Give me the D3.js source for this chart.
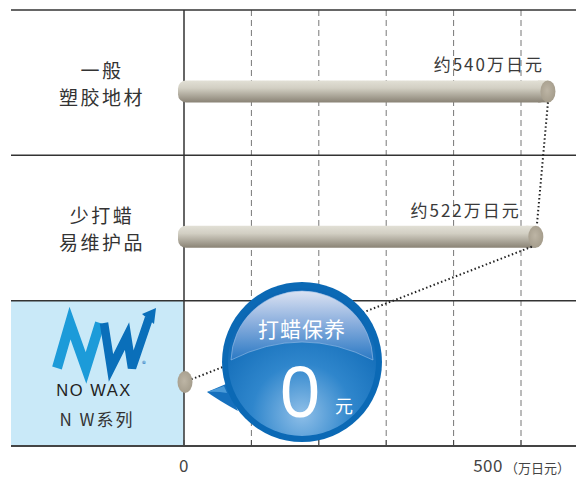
<!DOCTYPE html>
<html>
<head>
<meta charset="utf-8">
<script src="https://cdn.jsdelivr.net/npm/d3@7"></script>
<style>
  body { margin: 0; background: #fff; }
  svg { display: block; }
</style>
</head>
<body>
<div id="chart"></div>
<script>
// data
const categories = ["一般塑胶地材", "少打蜡易维护品", "NW系列"];
const categoryLines = [["一般", "塑胶地材"], ["少打蜡", "易维护品"], ["NO WAX", "N W系列"]];
const costValues = [540, 522, 0];
const costLabels = ["约540万日元", "约522万日元", ""];
const tickValues = [0, 100, 200, 300, 400, 500];
const tickLabels = ["0", "", "", "", "", "500"];
const unitLabel = "（万日元）";
const bubbleTitle = "打蜡保养";
const bubbleValue = "0";
const bubbleUnit = "元";

const W = 576, H = 477;
const leftX = 11, zeroX = 184, topY = 10, bottomY = 446;

const svg = d3.select("#chart").append("svg")
    .attr("width", W)
    .attr("height", H)
    .style("font-family", "'Noto Sans CJK SC', 'Noto Sans', sans-serif");

const x = d3.scaleLinear().domain([0, 500]).range([zeroX, 521]);
const y = d3.scaleBand().domain(categories).range([topY, bottomY]);

const defs = svg.append("defs");

let barGrad = defs.append("linearGradient").attr("id", "barGrad")
    .attr("x1", 0).attr("y1", 0).attr("x2", 0).attr("y2", 1);
barGrad.append("stop").attr("offset", "0%").attr("stop-color", "#e2e0d6");
barGrad.append("stop").attr("offset", "35%").attr("stop-color", "#d2cfc3");
barGrad.append("stop").attr("offset", "100%").attr("stop-color", "#8a8375");

let capGrad = defs.append("radialGradient").attr("id", "capGrad")
    .attr("cx", "45%").attr("cy", "45%").attr("r", "60%");
capGrad.append("stop").attr("offset", "0%").attr("stop-color", "#bdb5a5");
capGrad.append("stop").attr("offset", "100%").attr("stop-color", "#a39b8a");

let bubbleGrad = defs.append("radialGradient").attr("id", "bubbleGrad")
    .attr("cx", "50%").attr("cy", "85%").attr("r", "75%");
bubbleGrad.append("stop").attr("offset", "0%").attr("stop-color", "#8fbfe8");
bubbleGrad.append("stop").attr("offset", "45%").attr("stop-color", "#2f86cc");
bubbleGrad.append("stop").attr("offset", "100%").attr("stop-color", "#0b66b3");

let hlGrad = defs.append("linearGradient").attr("id", "hlGrad")
    .attr("x1", 0).attr("y1", 0).attr("x2", 0).attr("y2", 1);
hlGrad.append("stop").attr("offset", "0%").attr("stop-color", "#dbe2f2");
hlGrad.append("stop").attr("offset", "45%").attr("stop-color", "#8db0de");
hlGrad.append("stop").attr("offset", "100%").attr("stop-color", "#2a79c4");

// NW row background
svg.append("rect")
    .attr("x", leftX).attr("y", y(categories[2]))
    .attr("width", zeroX - leftX).attr("height", y.bandwidth())
    .attr("fill", "#c9e9f8");

// dashed grid
svg.append("g").selectAll("line")
    .data(tickValues.slice(1))
    .join("line")
    .attr("x1", d => x(d)).attr("x2", d => x(d))
    .attr("y1", topY).attr("y2", bottomY)
    .attr("stroke", "#777")
    .attr("stroke-width", 1)
    .attr("stroke-dasharray", "6,4");

// row separators
svg.append("g").selectAll("line")
    .data(categories)
    .join("line")
    .attr("x1", leftX).attr("x2", W)
    .attr("y1", d => y(d)).attr("y2", d => y(d))
    .attr("stroke", "#333")
    .attr("stroke-width", 1.5);

// zero line
svg.append("line")
    .attr("x1", x(0)).attr("x2", x(0))
    .attr("y1", topY).attr("y2", bottomY)
    .attr("stroke", "#333").attr("stroke-width", 1.5);

// category labels
categoryLines.slice(0, 2).forEach(function(lines, i) {
  let cy = y(categories[i]) + y.bandwidth() / 2;
  svg.append("text")
      .attr("x", 102)
      .attr("text-anchor", "middle")
      .attr("font-size", "19px")
      .attr("letter-spacing", "2.5px")
      .attr("fill", "#333")
      .selectAll("tspan")
      .data(lines)
      .join("tspan")
      .attr("x", 102)
      .attr("y", (d, j) => cy - 5 + j * 27)
      .text(d => d);
});

// NW logo
let logo = svg.append("g");
logo.append("polyline")
    .attr("points", "57,368 70,323 86,368 100,323")
    .attr("fill", "none").attr("stroke", "#1c9bd9")
    .attr("stroke-width", 10).attr("stroke-linejoin", "miter");
logo.append("polyline")
    .attr("points", "104,323 111,368 127,336 132,368 149,318")
    .attr("fill", "none").attr("stroke", "#0a6fba")
    .attr("stroke-width", 8.5).attr("stroke-linejoin", "miter");
logo.append("path")
    .attr("d", "M142,314 L156,308 L154,324 Z")
    .attr("fill", "#0a6fba");
logo.append("text")
    .attr("x", 144).attr("y", 367)
    .attr("text-anchor", "middle")
    .attr("font-size", "8px")
    .attr("fill", "#0a6fba")
    .text("®");

let nwCy = y(categories[2]) + y.bandwidth() / 2;
svg.append("text")
    .attr("x", 94).attr("y", nwCy + 23)
    .attr("text-anchor", "middle")
    .attr("font-family", "'Liberation Sans', sans-serif")
    .attr("font-size", "16.5px")
    .attr("letter-spacing", "1.5px")
    .attr("fill", "#222")
    .text(categoryLines[2][0]);
svg.append("text")
    .attr("x", 97).attr("y", nwCy + 53)
    .attr("text-anchor", "middle")
    .attr("font-size", "17px")
    .attr("letter-spacing", "2px")
    .attr("fill", "#333")
    .text(categoryLines[2][1]);

// bars
const barH = 22, capRx = 7.5;
const barY = i => y(categories[i]) + y.bandwidth() * 0.56;

let bars = svg.append("g");
costValues.forEach(function(v, i) {
  let cy = barY(i);
  if (v > 0) {
    bars.append("rect")
        .attr("x", x(0) - 6).attr("y", cy - barH / 2)
        .attr("width", x(v) - x(0) + 6).attr("height", barH)
        .attr("rx", 8).attr("ry", 8)
        .attr("fill", "url(#barGrad)");
    bars.append("rect")
        .attr("x", x(v) - 10).attr("y", cy - barH / 2)
        .attr("width", 10).attr("height", barH)
        .attr("fill", "url(#barGrad)");
  }
  bars.append("ellipse")
      .attr("cx", x(v) + (v > 0 ? 0 : 1)).attr("cy", cy)
      .attr("rx", capRx).attr("ry", barH / 2)
      .attr("fill", "url(#capGrad)");
});

// value labels
const labelDx = [-4, -15];
costLabels.forEach(function(t, i) {
  if (!t) return;
  svg.append("text")
      .attr("x", x(costValues[i]) + labelDx[i])
      .attr("y", barY(i) - barH / 2 - 9)
      .attr("text-anchor", "end")
      .attr("font-size", "17px")
      .attr("letter-spacing", "2px")
      .attr("fill", "#3a3a3a")
      .text(t);
});

// dotted connectors
let dots = svg.append("g")
    .attr("fill", "none")
    .attr("stroke", "#222")
    .attr("stroke-width", 2)
    .attr("stroke-dasharray", "1.5,2.5");
dots.append("line")
    .attr("x1", x(costValues[0])).attr("y1", barY(0) + barH / 2)
    .attr("x2", x(costValues[1]) + 1).attr("y2", barY(1) - barH / 2);
dots.append("line")
    .attr("x1", x(costValues[1]) - 4).attr("y1", barY(1) + barH / 2 - 1)
    .attr("x2", x(costValues[2]) + 8).attr("y2", barY(2) - 3);

// bubble
const bx = 302, by = 362, br = 80, hr = 71;
let bubble = svg.append("g");
bubble.append("path")
    .attr("d", `M${bx - 76},${by + 22} L${bx - 95},${by + 30} Q${bx - 84},${by + 38} ${bx - 64},${by + 49} Z`)
    .attr("fill", "#1670bd");
bubble.append("path")
    .attr("d", `M${bx - 78},${by + 24} L${bx - 95},${by + 30} Q${bx - 86},${by + 29} ${bx - 75},${by + 31} Z`)
    .attr("fill", "#4b9ad8");
bubble.append("circle")
    .attr("cx", bx).attr("cy", by).attr("r", br)
    .attr("fill", "#0b69b5");
bubble.append("circle")
    .attr("cx", bx).attr("cy", by).attr("r", br - 6)
    .attr("fill", "url(#bubbleGrad)");
let ex = Math.sqrt(hr * hr - 4);
bubble.append("path")
    .attr("d", `M${bx - ex},${by - 2} A${hr},${hr} 0 0 1 ${bx + ex},${by - 2} Q${bx},${by - 38} ${bx - ex},${by - 2} Z`)
    .attr("fill", "url(#hlGrad)")
    .attr("stroke", "#9cc0e8")
    .attr("stroke-width", 0.6);

bubble.append("text")
    .attr("x", bx).attr("y", by - 25)
    .attr("text-anchor", "middle")
    .attr("font-size", "21px")
    .attr("letter-spacing", "1px")
    .attr("fill", "#fff")
    .text(bubbleTitle);
bubble.append("text")
    .attr("x", bx - 2).attr("y", by + 55)
    .attr("text-anchor", "middle")
    .attr("font-family", "'Liberation Sans', sans-serif")
    .attr("font-size", "72px")
    .attr("fill", "#fff")
    .text(bubbleValue);
bubble.append("text")
    .attr("x", bx + 42).attr("y", by + 51)
    .attr("text-anchor", "middle")
    .attr("font-size", "18px")
    .attr("fill", "#fff")
    .text(bubbleUnit);

// bottom axis
let axis = svg.append("g");
axis.append("line")
    .attr("x1", leftX).attr("x2", W)
    .attr("y1", bottomY).attr("y2", bottomY)
    .attr("stroke", "#444").attr("stroke-width", 2);
axis.selectAll(".tick")
    .data(tickValues)
    .join("line")
    .attr("class", "tick")
    .attr("x1", d => x(d)).attr("x2", d => x(d))
    .attr("y1", bottomY - 6).attr("y2", bottomY)
    .attr("stroke", "#444").attr("stroke-width", 1);
axis.selectAll(".tick-label")
    .data(tickValues)
    .join("text")
    .attr("class", "tick-label")
    .attr("x", (d, i) => i === 0 ? x(d) : x(d) - 18)
    .attr("y", 472)
    .attr("text-anchor", (d, i) => i === 0 ? "middle" : "end")
    .attr("font-size", "17px")
    .attr("letter-spacing", "0.5px")
    .attr("fill", "#444")
    .text((d, i) => tickLabels[i]);
axis.append("text")
    .attr("x", x(500) - 16).attr("y", 473)
    .attr("font-size", "13px")
    .attr("fill", "#444")
    .text(unitLabel);
</script>
</body>
</html>
